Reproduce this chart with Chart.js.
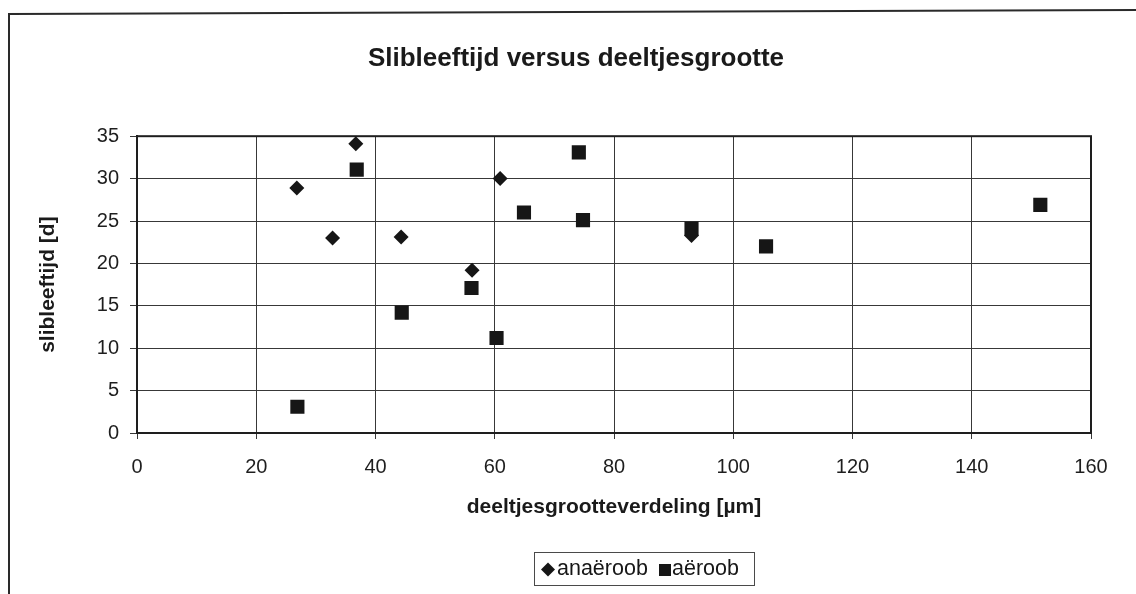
<!DOCTYPE html>
<html>
<head>
<meta charset="utf-8">
<script src="https://cdn.jsdelivr.net/npm/chart.js@4.4.1/dist/chart.umd.min.js"></script>
<style>
  html, body { margin: 0; padding: 0; background: #ffffff; }
  #wrap { width: 1136px; height: 594px; }
</style>
</head>
<body>
<div id="wrap"><canvas id="c" width="1136" height="594"></canvas></div>
<script>
// Particle size (µm) and sludge age (d) per sample
const anaeroobX = [26.8, 32.8, 36.7, 44.3, 56.2, 60.9, 93.0];
const anaeroobY = [28.9, 23.0, 34.1, 23.1, 19.2, 30.0, 23.3];
const aeroobX = [26.9, 36.85, 44.4, 56.1, 60.3, 64.9, 74.1, 74.8, 93.0, 105.5, 151.5];
const aeroobY = [3.1, 31.05, 14.2, 17.1, 11.2, 26.0, 33.1, 25.1, 24.1, 22.0, 26.9];

const seriesNames = ['anaëroob', 'aëroob'];
const xTicks = [0, 20, 40, 60, 80, 100, 120, 140, 160];
const yTicks = [0, 5, 10, 15, 20, 25, 30, 35];

const INK = '#161616';
const FONT = "'Liberation Sans', Arial, Helvetica, sans-serif";
Chart.defaults.font.family = FONT;
Chart.defaults.color = '#1e1e1e';

const toPoints = (xs, ys) => xs.map((x, i) => ({ x: x, y: ys[i] }));

// Page frame, plot frame and the boxed legend
const decor = {
  id: 'decor',
  beforeDraw(chart) {
    const ctx = chart.ctx;
    ctx.save();
    ctx.fillStyle = '#ffffff';
    ctx.fillRect(0, 0, chart.width, chart.height);
    ctx.strokeStyle = '#2a2a2a';
    ctx.lineWidth = 2;
    ctx.beginPath();
    ctx.moveTo(9, chart.height + 2);
    ctx.lineTo(9, 14);
    ctx.lineTo(chart.width + 2, 10);
    ctx.stroke();
    ctx.restore();
  },
  beforeDatasetsDraw(chart) {
    const a = chart.chartArea;
    const ctx = chart.ctx;
    ctx.save();
    ctx.strokeStyle = '#1e1e1e';
    ctx.lineWidth = 2;
    ctx.strokeRect(a.left, a.top, a.right - a.left, a.bottom - a.top);
    ctx.restore();
  },
  afterDraw(chart) {
    const ctx = chart.ctx;
    ctx.save();
    const bx = 534, by = 552, bw = 220, bh = 33;
    ctx.strokeStyle = '#4a4a4a';
    ctx.lineWidth = 1;
    ctx.strokeRect(bx + 0.5, by + 0.5, bw, bh);
    const cy = by + bh / 2 + 1;
    ctx.font = '21.5px ' + FONT;
    ctx.textBaseline = 'middle';
    ctx.textAlign = 'left';
    ctx.fillStyle = INK;
    // diamond
    ctx.beginPath();
    ctx.moveTo(541, cy); ctx.lineTo(548, cy - 7); ctx.lineTo(555, cy); ctx.lineTo(548, cy + 7);
    ctx.closePath(); ctx.fill();
    ctx.fillText(seriesNames[0], 557, cy);
    // square
    ctx.fillRect(659, cy - 5.5, 12, 12);
    ctx.fillText(seriesNames[1], 672, cy);
    ctx.restore();
  }
};

new Chart(document.getElementById('c'), {
  type: 'scatter',
  data: {
    datasets: [
      {
        label: seriesNames[0],
        data: toPoints(anaeroobX, anaeroobY),
        pointStyle: 'rectRot',
        pointRadius: 7.5,
        pointHoverRadius: 7.5,
        backgroundColor: INK,
        borderColor: INK,
        borderWidth: 0
      },
      {
        label: seriesNames[1],
        data: toPoints(aeroobX, aeroobY),
        pointStyle: 'rect',
        pointRadius: 10,
        pointHoverRadius: 10,
        backgroundColor: INK,
        borderColor: INK,
        borderWidth: 0
      }
    ]
  },
  options: {
    responsive: false,
    animation: false,
    events: [],
    layout: { padding: { left: 16, right: 0, top: 0, bottom: 74 } },
    plugins: {
      legend: { display: false },
      tooltip: { enabled: false },
      title: {
        display: true,
        text: 'Slibleeftijd versus deeltjesgrootte',
        color: '#1a1a1a',
        font: { size: 26, weight: 'bold', family: FONT },
        padding: { top: 43, bottom: 62 }
      }
    },
    scales: {
      x: {
        type: 'linear',
        min: xTicks[0],
        max: xTicks[xTicks.length - 1],
        afterBuildTicks: s => { s.ticks = xTicks.map(v => ({ value: v })); },
        afterFit: s => { s.height = 87; },
        grid: { color: '#383838', lineWidth: 1, tickLength: 6, tickColor: '#383838' },
        border: { color: '#1e1e1e', width: 2 },
        ticks: { font: { size: 20 }, padding: 16, color: '#1e1e1e' },
        title: {
          display: true,
          text: 'deeltjesgrootteverdeling [µm]',
          color: '#1a1a1a',
          font: { size: 21, weight: 'bold' },
          padding: { top: 0, bottom: 0 }
        }
      },
      y: {
        type: 'linear',
        min: yTicks[0],
        max: yTicks[yTicks.length - 1],
        afterBuildTicks: s => { s.ticks = yTicks.map(v => ({ value: v })); },
        afterFit: s => { s.width = 121; },
        grid: { color: '#383838', lineWidth: 1, tickLength: 7, tickColor: '#383838' },
        border: { color: '#1e1e1e', width: 2 },
        ticks: { font: { size: 20 }, padding: 11, color: '#1e1e1e' },
        title: {
          display: true,
          text: 'slibleeftijd [d]',
          color: '#1a1a1a',
          font: { size: 21, weight: 'bold' },
          padding: { top: 20, bottom: 0 }
        }
      },
      yRight: {
        type: 'linear',
        position: 'right',
        display: true,
        min: 0,
        max: 35,
        afterFit: s => { s.width = 45; },
        grid: { display: false, drawOnChartArea: false },
        border: { display: false },
        ticks: { display: false }
      }
    }
  },
  plugins: [decor]
});
</script>
</body>
</html>
